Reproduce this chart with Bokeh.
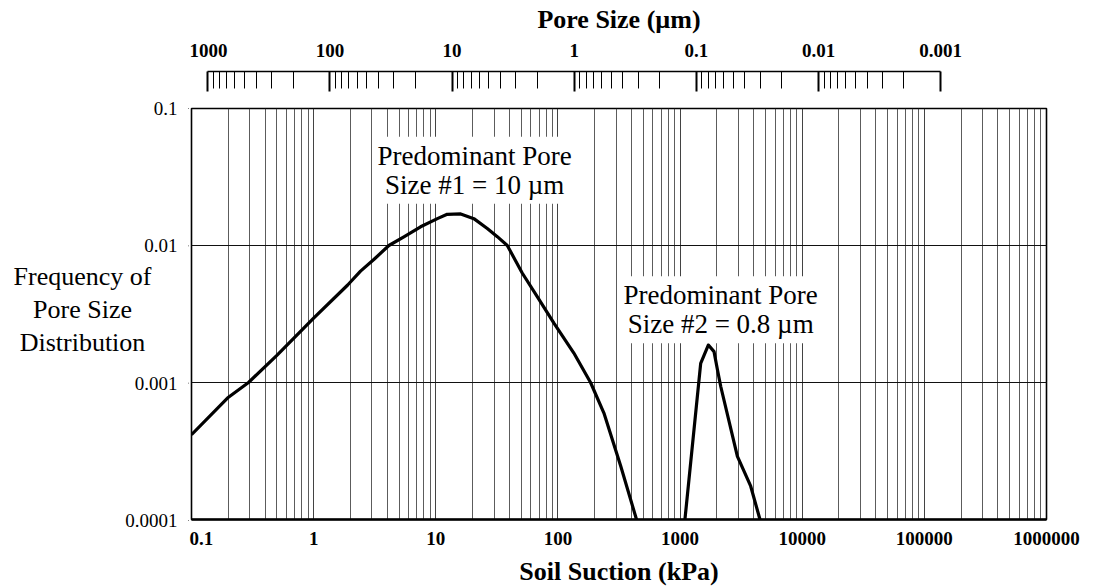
import math
from bokeh.plotting import figure
from bokeh.models import Range1d, FixedTicker, Label, ColumnDataSource
from bokeh.layouts import column, row
from bokeh.core.properties import value
from bokeh.embed import file_html
from bokeh.resources import INLINE

# ---------------- data ----------------
suction_1 = [0.1, 0.197, 0.293, 0.5, 1.0, 1.9, 2.42, 3.11, 4.13, 5.48, 7.51, 10.3,
             12.4, 16.0, 20.5, 26.4, 31.9, 38.5, 51.0, 67.7, 92.7, 135.0, 185.0,
             238.0, 327.0, 440.0]
freq_1 = [4.16e-4, 7.7e-4, 1.0e-3, 1.58e-3, 2.95e-3, 5.15e-3, 6.5e-3, 7.9e-3, 1.0e-2,
          1.156e-2, 1.37e-2, 1.57e-2, 1.69e-2, 1.70e-2, 1.57e-2, 1.33e-2, 1.16e-2,
          1.0e-2, 6.3e-3, 4.23e-3, 2.71e-3, 1.64e-3, 1.0e-3, 5.98e-4, 2.45e-4, 1.0e-4]

suction_2 = [1096.0, 1475.0, 1706.0, 1897.0, 2023.0, 2153.0, 2947.0, 3787.0, 4510.0]
freq_2 = [1.0e-4, 1.38e-3, 1.88e-3, 1.68e-3, 1.24e-3, 9.35e-4, 2.89e-4, 1.75e-4, 1.0e-4]

suction_ticks = [0.1, 1.0, 10.0, 100.0, 1000.0, 10000.0, 100000.0, 1000000.0]
suction_labels = ["0.1", "1", "10", "100", "1000", "10000", "100000", "1000000"]
freq_ticks = [0.0001, 0.001, 0.01, 0.1]
freq_labels = ["0.0001", "0.001", "0.01", "0.1"]
pore_ticks = [1000.0, 100.0, 10.0, 1.0, 0.1, 0.01, 0.001]
pore_labels = ["1000", "100", "10", "1", "0.1", "0.01", "0.001"]
pore_factor = 136.0  # pore size (um) = pore_factor / suction (kPa)

annot_1 = "Predominant Pore\nSize #1 = 10 \u00b5m"
annot_2 = "Predominant Pore\nSize #2 = 0.8 \u00b5m"
y_title = "Frequency of\nPore Size\nDistribution"

FONT = "Liberation Serif"

def log_minor(lo_exp, hi_exp):
    return [m * 10.0 ** k for k in range(lo_exp, hi_exp) for m in range(2, 10)]

# ---------------- layout constants (pixels) ----------------
W = 1088
LEFT_W = 189          # width of the left label strip
RIGHT = 42
TOP_H = 96
MAIN_H = 492
TOTAL_H = TOP_H + MAIN_H
M_TOP = 12
M_BOTTOM = 68
FRAME_H = MAIN_H - M_TOP - M_BOTTOM
decade_px = FRAME_H / (math.log10(freq_ticks[-1]) - math.log10(freq_ticks[0]))

# ---------------- top (pore size) axis figure ----------------
top = figure(width=W - LEFT_W, height=TOP_H, x_axis_type="log",
             x_range=Range1d(pore_factor / suction_ticks[0], pore_factor / suction_ticks[-1]),
             y_range=Range1d(0, 1), x_axis_location="above", y_axis_location=None,
             output_backend="svg", toolbar_location=None,
             min_border_left=2, min_border_right=RIGHT, min_border_top=71,
             min_border_bottom=0)
top.outline_line_color = None
top.grid.visible = False
tax = top.xaxis[0]
tax.ticker = FixedTicker(ticks=pore_ticks, minor_ticks=log_minor(-3, 3))
tax.major_label_overrides = dict(zip(pore_ticks, pore_labels))
tax.bounds = (min(pore_ticks), max(pore_ticks))
tax.major_tick_in = 20
tax.major_tick_out = 0
tax.minor_tick_in = 17
tax.minor_tick_out = 0
tax.major_tick_line_width = 2
tax.axis_line_width = 1.5
tax.axis_line_color = "black"
tax.major_tick_line_color = "black"
tax.minor_tick_line_color = "black"
tax.major_label_text_font = FONT
tax.major_label_text_font_size = "19px"
tax.major_label_text_font_style = "bold"
tax.major_label_text_color = "black"
tax.major_label_standoff = 15
tax.axis_label = "Pore Size (\u00b5m)"
tax.axis_label_text_font = FONT
tax.axis_label_text_font_size = "26px"
tax.axis_label_text_font_style = "bold"
tax.axis_label_text_color = "black"
tax.axis_label_standoff = 7

# ---------------- main figure ----------------
p = figure(width=W - LEFT_W, height=MAIN_H, x_axis_type="log", y_axis_type="log",
           x_range=Range1d(suction_ticks[0], suction_ticks[-1]),
           y_range=Range1d(freq_ticks[0], freq_ticks[-1]),
           y_axis_location=None,
           output_backend="svg", toolbar_location=None,
           min_border_left=2, min_border_right=RIGHT, min_border_top=M_TOP,
           min_border_bottom=M_BOTTOM)
p.outline_line_color = "black"
p.outline_line_width = 1.6

xax = p.xaxis[0]
xax.ticker = FixedTicker(ticks=suction_ticks, minor_ticks=log_minor(-1, 6))
xax.major_label_overrides = dict(zip(suction_ticks, suction_labels))
xax.major_tick_out = 0
xax.major_tick_in = 0
xax.minor_tick_out = 0
xax.minor_tick_in = 0
xax.axis_line_width = 2.5
xax.axis_line_color = "black"
xax.major_label_text_font = FONT
xax.major_label_text_font_size = "19px"
xax.major_label_text_font_style = "bold"
xax.major_label_text_color = "black"
xax.major_label_standoff = 12
xax.axis_label = "Soil Suction (kPa)"
xax.axis_label_text_font = FONT
xax.axis_label_text_font_size = "26px"
xax.axis_label_text_font_style = "bold"
xax.axis_label_text_color = "black"
xax.axis_label_standoff = 9

p.xgrid.grid_line_color = "#222222"
p.xgrid.grid_line_alpha = 0.85
p.xgrid.grid_line_width = 1
p.xgrid.minor_grid_line_color = "#333333"
p.xgrid.minor_grid_line_alpha = 0.8
p.xgrid.minor_grid_line_width = 1
p.ygrid.ticker = FixedTicker(ticks=freq_ticks, minor_ticks=[])
p.ygrid.grid_line_color = "#111111"
p.ygrid.grid_line_width = 1
p.ygrid.minor_grid_line_color = None

p.line(suction_1, freq_1, line_color="black", line_width=3.2, line_join="round")
p.line(suction_2, freq_2, line_color="black", line_width=3.2, line_join="round")

p.add_layout(Label(x=20.8, y=0.0354, text=annot_1, text_align="center",
                   text_baseline="middle", text_font=FONT, text_font_size="27px",
                   text_color="black", text_line_height=0.97,
                   background_fill_color="white", background_fill_alpha=1.0, padding=4))
p.add_layout(Label(x=2150, y=0.0034, text=annot_2, text_align="center",
                   text_baseline="middle", text_font=FONT, text_font_size="27px",
                   text_color="black", text_line_height=0.97,
                   background_fill_color="white", background_fill_alpha=1.0, padding=4))

# ---------------- left strip: y tick labels and y title ----------------
hi_log = math.log10(freq_ticks[-1]) + (TOP_H + M_TOP) / decade_px
lo_log = math.log10(freq_ticks[0]) - M_BOTTOM / decade_px
left = figure(width=LEFT_W, height=TOTAL_H, y_axis_type="log",
              x_range=Range1d(0, LEFT_W), y_range=Range1d(10 ** lo_log, 10 ** hi_log),
              x_axis_location=None, y_axis_location=None,
              output_backend="svg", toolbar_location=None,
              min_border_left=0, min_border_right=0, min_border_top=0, min_border_bottom=0)
left.outline_line_color = None
left.grid.visible = False

tick_src = ColumnDataSource(dict(x=[LEFT_W - 12] * len(freq_ticks), y=freq_ticks,
                                 text=freq_labels))
left.text(x="x", y="y", text="text", source=tick_src, text_align="right",
          text_baseline="middle", text_font=value(FONT), text_font_size=value("19px"),
          text_color="black")
left.segment(x0=[LEFT_W - 1] * len(freq_ticks), x1=[LEFT_W + 2] * len(freq_ticks),
             y0=freq_ticks, y1=freq_ticks, line_color="black", line_width=1)

title_y = 10 ** (math.log10(freq_ticks[-1]) - (309 - (TOP_H + M_TOP)) / decade_px)
left.add_layout(Label(x=82, y=title_y, text=y_title, text_align="center",
                      text_baseline="middle", text_font=FONT, text_font_size="26px",
                      text_color="black", text_line_height=1.15))

layout = row(left, column(top, p, spacing=0), spacing=0)
open("out.html", "w").write(file_html(layout, INLINE))
